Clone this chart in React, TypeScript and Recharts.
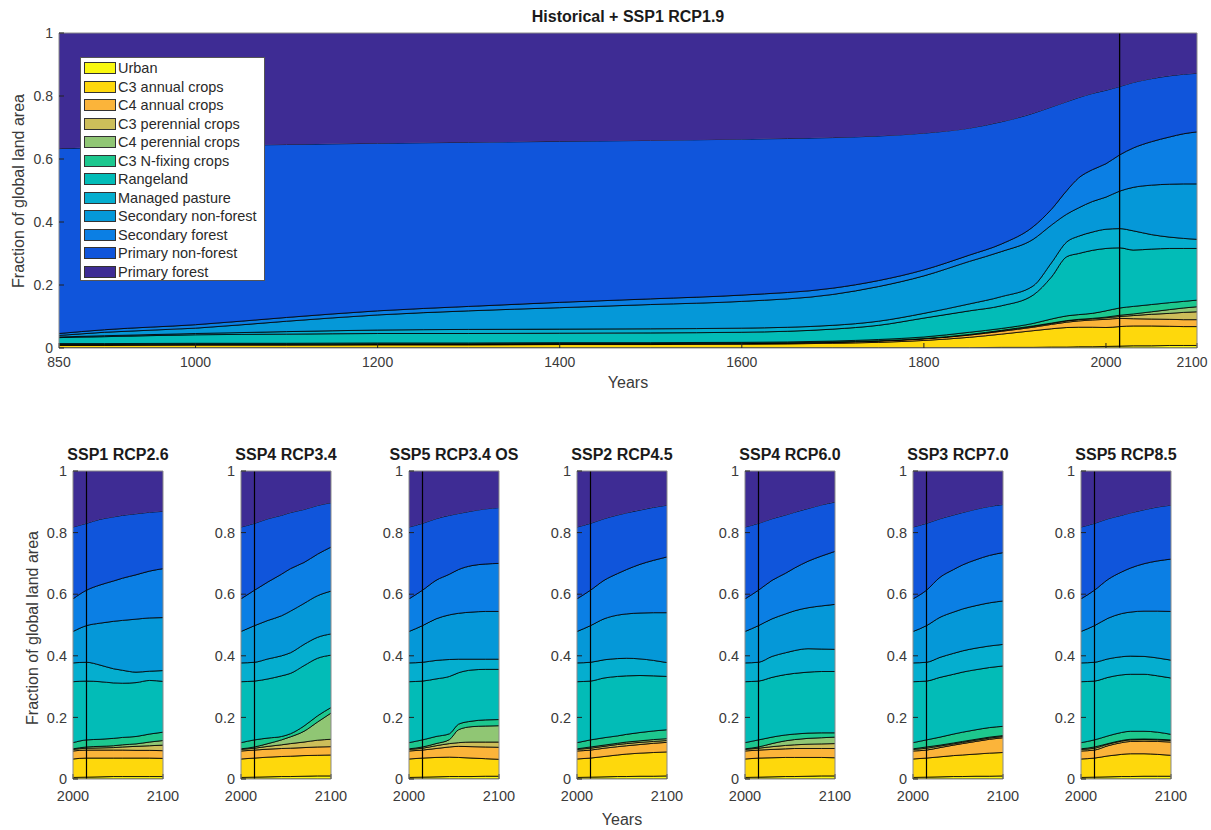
import React from 'react';
import { AreaChart, Area, XAxis, YAxis, ReferenceLine } from 'recharts';

// Land-use classes, bottom to top of the stack
const CATEGORIES = [
  'Urban',
  'C3 annual crops',
  'C4 annual crops',
  'C3 perennial crops',
  'C4 perennial crops',
  'C3 N-fixing crops',
  'Rangeland',
  'Managed pasture',
  'Secondary non-forest',
  'Secondary forest',
  'Primary non-forest',
  'Primary forest',
];
const KEYS = ['urban', 'c3ann', 'c4ann', 'c3per', 'c4per', 'c3nfx', 'range', 'pastr', 'secdn', 'secdf', 'primn'];
const COLORS = [
  '#F9F80F', '#FED80C', '#FBB43A', '#CDBE5A', '#90C674', '#1DC78E',
  '#02BCB7', '#05AECF', '#0598D8', '#0B7FE4', '#1055DB', '#3E2C94',
];
const TOTAL = 1; // top of the stack = whole land area

// ---------- Historical + SSP1 RCP1.9 (cumulative fraction at the top of each class) ----------
const histYears = [850, 900, 1000, 1100, 1200, 1300, 1400, 1500, 1600, 1700, 1750, 1800, 1850, 1885, 1920, 1940, 1957, 1970, 1985, 2000, 2015, 2030, 2050, 2070, 2085, 2100];
const histUrban = [.001, .001, .001, .001, .001, .001, .001, .001, .001, .001, .001, .001, .001, .002, .002, .003, .003, .004, .004, .005, .006, .007, .007, .008, .008, .008];
const histC3Ann = [.008, .008, .009, .009, .010, .010, .011, .011, .012, .015, .018, .024, .034, .044, .055, .061, .065, .066, .066, .065, .068, .070, .070, .069, .068, .068];
const histC4Ann = [.010, .010, .011, .011, .012, .012, .013, .013, .014, .018, .022, .029, .041, .053, .066, .075, .082, .086, .089, .091, .094, .093, .092, .091, .090, .090];
const histC3Per = [.011, .011, .012, .012, .013, .013, .014, .014, .015, .019, .023, .030, .043, .055, .069, .078, .086, .090, .093, .096, .100, .103, .107, .110, .113, .115];
const histC4Per = [.011, .011, .012, .012, .013, .013, .014, .014, .015, .019, .023, .030, .043, .056, .070, .079, .087, .091, .094, .098, .104, .108, .115, .122, .127, .131];
const histNfix = [.014, .014, .015, .015, .016, .016, .017, .017, .018, .022, .027, .035, .050, .062, .078, .092, .102, .106, .110, .118, .127, .132, .138, .144, .148, .152];
const histRange = [.033, .036, .042, .044, .046, .046, .047, .048, .050, .060, .072, .095, .118, .134, .168, .225, .290, .300, .310, .316, .318, .311, .314, .316, .316, .316];
const histPasture = [.035, .039, .046, .052, .057, .059, .060, .061, .063, .072, .085, .110, .140, .163, .197, .270, .337, .355, .368, .377, .379, .372, .360, .352, .348, .345];
const histSecNF = [.040, .050, .063, .085, .105, .118, .128, .138, .148, .170, .195, .229, .275, .306, .345, .390, .425, .445, .465, .479, .498, .510, .517, .520, .521, .521];
const histSecF = [.046, .058, .074, .097, .118, .132, .145, .156, .168, .190, .214, .248, .295, .330, .385, .440, .500, .540, .566, .585, .613, .635, .655, .670, .680, .686];
const histPrimNF = [.633, .637, .642, .646, .650, .653, .656, .659, .663, .668, .673, .682, .698, .718, .745, .765, .782, .795, .808, .818, .830, .843, .855, .864, .869, .872];
const histTicks = [850, 1000, 1200, 1400, 1600, 1800, 2000, 2100];

// ---------- Scenario panels (rows: cumulative top of urban ... primary non-forest) ----------
const scenarioYears = [2000, 2015, 2030, 2045, 2055, 2070, 2085, 2100];
const scenarioTicks = [2000, 2100];
const ssp126 = [
  [.005, .006, .007, .008, .008, .008, .008, .008],
  [.065, .068, .068, .068, .068, .068, .068, .067],
  [.091, .094, .094, .094, .094, .093, .093, .092],
  [.096, .100, .101, .102, .104, .106, .108, .110],
  [.098, .104, .106, .108, .111, .114, .120, .125],
  [.118, .127, .129, .132, .135, .138, .146, .152],
  [.316, .318, .316, .312, .311, .313, .320, .317],
  [.377, .379, .370, .358, .353, .347, .350, .352],
  [.479, .498, .506, .512, .515, .519, .523, .524],
  [.585, .613, .630, .643, .652, .663, .675, .683],
  [.818, .830, .843, .851, .856, .861, .866, .869],
];
const ssp434 = [
  [.005, .006, .007, .008, .008, .009, .010, .010],
  [.065, .068, .071, .073, .074, .076, .077, .078],
  [.091, .094, .097, .099, .100, .102, .104, .105],
  [.096, .100, .106, .111, .115, .120, .126, .129],
  [.098, .104, .115, .127, .137, .155, .185, .214],
  [.118, .127, .133, .138, .147, .172, .205, .232],
  [.316, .318, .325, .335, .343, .368, .392, .402],
  [.377, .379, .390, .400, .410, .437, .460, .471],
  [.479, .498, .515, .530, .545, .570, .595, .610],
  [.585, .613, .640, .665, .683, .703, .730, .753],
  [.818, .830, .845, .856, .865, .875, .888, .897],
];
const ssp534os = [
  [.005, .006, .007, .008, .008, .008, .009, .009],
  [.065, .068, .070, .071, .070, .068, .066, .064],
  [.091, .094, .099, .104, .106, .105, .104, .103],
  [.096, .100, .108, .115, .118, .120, .120, .120],
  [.098, .104, .115, .128, .160, .170, .172, .173],
  [.118, .127, .138, .147, .178, .188, .192, .193],
  [.316, .318, .325, .333, .345, .354, .356, .356],
  [.377, .379, .385, .388, .389, .389, .389, .389],
  [.479, .498, .520, .533, .538, .542, .544, .544],
  [.585, .613, .645, .665, .680, .693, .698, .700],
  [.818, .830, .845, .856, .862, .870, .877, .881],
];
const ssp245 = [
  [.005, .006, .007, .008, .008, .009, .009, .010],
  [.065, .068, .073, .078, .081, .084, .086, .088],
  [.091, .094, .100, .105, .108, .112, .116, .119],
  [.096, .100, .106, .112, .115, .119, .122, .125],
  [.098, .104, .110, .116, .120, .124, .128, .131],
  [.118, .127, .134, .140, .145, .151, .156, .160],
  [.316, .318, .328, .333, .335, .336, .335, .333],
  [.377, .379, .387, .391, .392, .390, .385, .378],
  [.479, .498, .520, .532, .536, .539, .540, .540],
  [.585, .613, .645, .667, .680, .697, .710, .721],
  [.818, .830, .845, .857, .864, .873, .882, .889],
];
const ssp460 = [
  [.005, .006, .007, .008, .008, .009, .010, .010],
  [.065, .068, .069, .070, .070, .070, .070, .069],
  [.091, .094, .096, .098, .099, .099, .099, .099],
  [.096, .100, .105, .109, .111, .113, .114, .115],
  [.098, .104, .115, .124, .128, .132, .134, .136],
  [.118, .127, .136, .143, .146, .149, .150, .150],
  [.316, .318, .330, .339, .343, .347, .349, .349],
  [.377, .379, .398, .410, .417, .423, .422, .421],
  [.479, .498, .520, .536, .546, .556, .562, .567],
  [.585, .613, .645, .668, .685, .707, .724, .739],
  [.818, .830, .845, .857, .866, .878, .890, .899],
];
const ssp370 = [
  [.005, .006, .007, .008, .008, .009, .009, .010],
  [.065, .068, .072, .076, .078, .081, .084, .086],
  [.091, .094, .102, .110, .115, .122, .129, .134],
  [.096, .100, .107, .114, .119, .126, .133, .138],
  [.098, .104, .110, .117, .122, .129, .136, .141],
  [.118, .127, .136, .146, .152, .160, .167, .171],
  [.316, .318, .330, .340, .347, .355, .362, .367],
  [.377, .379, .395, .408, .416, .425, .432, .437],
  [.479, .498, .525, .542, .552, .563, .572, .578],
  [.585, .613, .655, .680, .695, .712, .726, .735],
  [.818, .830, .845, .857, .865, .876, .885, .891],
];
const ssp585 = [
  [.005, .006, .007, .008, .008, .009, .009, .009],
  [.065, .068, .075, .080, .082, .082, .080, .077],
  [.091, .094, .108, .118, .122, .123, .122, .120],
  [.096, .100, .113, .123, .127, .128, .127, .125],
  [.098, .104, .115, .125, .129, .130, .129, .127],
  [.118, .127, .140, .151, .155, .155, .152, .145],
  [.316, .318, .330, .338, .340, .340, .335, .328],
  [.377, .379, .390, .397, .399, .398, .393, .386],
  [.479, .498, .522, .537, .542, .545, .545, .544],
  [.585, .613, .648, .672, .685, .699, .708, .714],
  [.818, .830, .845, .856, .864, .874, .883, .889],
];
const scenarioTitles = ['SSP1 RCP2.6', 'SSP4 RCP3.4', 'SSP5 RCP3.4 OS', 'SSP2 RCP4.5', 'SSP4 RCP6.0', 'SSP3 RCP7.0', 'SSP5 RCP8.5'];
const scenarioSeries = [ssp126, ssp434, ssp534os, ssp245, ssp460, ssp370, ssp585];
const yTicks = [0, 0.2, 0.4, 0.6, 0.8, 1];

const FONT = '"Liberation Sans", Arial, Helvetica, sans-serif';
const TXT = '#3a3a3a';

function buildRows(years: number[], series: number[][]) {
  return years.map((year, i) => {
    const row: Record<string, number> = { year };
    series.forEach((s, k) => {
      row[KEYS[k]] = s[i];
    });
    return row;
  });
}

const histRows = buildRows(histYears, [
  histUrban, histC3Ann, histC4Ann, histC3Per, histC4Per, histNfix,
  histRange, histPasture, histSecNF, histSecF, histPrimNF,
]);

function renderLayers() {
  return CATEGORIES.map((name, k) => (
    <Area
      key={name}
      name={name}
      type="monotone"
      dataKey={(d: any) => [k === 0 ? 0 : d[KEYS[k - 1]], k === CATEGORIES.length - 1 ? TOTAL : d[KEYS[k]]]}
      fill={COLORS[k]}
      fillOpacity={1}
      stroke={k === CATEGORIES.length - 1 ? 'none' : '#000'}
      strokeWidth={0.8}
      dot={false}
      activeDot={false}
      isAnimationActive={false}
    />
  ));
}

// X tick label that stays inside the page at its right edge
function makeXTick(fontSize: number, maxCenter: number) {
  return (props: any) => {
    const { x, y, payload } = props;
    return (
      <text x={Math.min(x, maxCenter)} y={y} dy="0.71em" textAnchor="middle"
        fill={TXT} fontSize={fontSize} fontFamily={FONT}>
        {payload.value}
      </text>
    );
  };
}

function frameAxes(domain: [number, number], xTicks: number[], fontSize: number, xMargin: number, yWidth: number, maxCenter: number) {
  const tick = { fill: TXT, fontSize, fontFamily: FONT };
  return [
    <XAxis key="xb" dataKey="year" type="number" domain={domain} ticks={xTicks} interval={0}
      tickSize={-5} tickMargin={xMargin} tick={makeXTick(fontSize, maxCenter)} height={30}
      axisLine={{ stroke: '#8a8a8a' }} tickLine={{ stroke: '#222' }} allowDataOverflow />,
    <XAxis key="xt" xAxisId="top" orientation="top" type="number" domain={domain} ticks={xTicks}
      interval={0} tickSize={-5} tick={false} height={1}
      axisLine={{ stroke: '#8a8a8a' }} tickLine={{ stroke: '#222' }} allowDataOverflow />,
    <YAxis key="yl" type="number" domain={[0, 1]} ticks={yTicks} interval={0}
      tickSize={-5} tickMargin={11} tick={tick} width={yWidth}
      axisLine={{ stroke: '#8a8a8a' }} tickLine={{ stroke: '#222' }} allowDataOverflow />,
    <YAxis key="yr" yAxisId="right" orientation="right" type="number" domain={[0, 1]} ticks={yTicks}
      interval={0} tickSize={-5} tick={false} width={1}
      axisLine={{ stroke: '#8a8a8a' }} tickLine={{ stroke: '#222' }} allowDataOverflow />,
  ];
}

function Legend12() {
  return (
    <div style={{
      position: 'absolute', left: 80, top: 57, width: 185, height: 224,
      background: '#fff', border: '1px solid #555', boxSizing: 'border-box', paddingTop: 1,
    }}>
      {CATEGORIES.map((name, k) => (
        <div key={name} style={{ height: 18.5, display: 'flex', alignItems: 'center' }}>
          <div style={{
            marginLeft: 3, width: 32, height: 12, background: COLORS[k],
            border: '1px solid #333', boxSizing: 'border-box', flex: 'none',
          }} />
          <span style={{
            marginLeft: 2, fontFamily: FONT, fontSize: 14.5, color: '#2a2a2a',
            whiteSpace: 'nowrap', lineHeight: '18px',
          }}>{name}</span>
        </div>
      ))}
    </div>
  );
}

const textBase: React.CSSProperties = {
  position: 'absolute', fontFamily: FONT, color: TXT, textAlign: 'center', whiteSpace: 'nowrap',
};

export default function App() {
  const PANEL_LEFT0 = 73;
  const PANEL_STEP = 168;
  const PANEL_W = 90;
  return (
    <div style={{ position: 'absolute', left: 0, top: 0, width: 1211, height: 830, background: '#fff', overflow: 'hidden' }}>
      <style>{'.recharts-surface{overflow:visible}'}</style>
      {/* Main historical chart */}
      <div style={{ position: 'absolute', left: 0, top: 0 }}>
        <AreaChart width={1211} height={400} data={histRows} margin={{ top: 32, right: 13, bottom: 22, left: 0 }}>
          {renderLayers()}
          <ReferenceLine x={2015} stroke="#000" strokeWidth={1.3} />
          {frameAxes([850, 2100], histTicks, 14, 14, 59, 1192)}
        </AreaChart>
      </div>
      <div style={{ ...textBase, left: 428, width: 400, top: 8, fontSize: 16, fontWeight: 'bold', color: '#1a1a1a' }}>
        Historical + SSP1 RCP1.9
      </div>
      <div style={{ ...textBase, left: 528, width: 200, top: 374, fontSize: 16 }}>Years</div>
      <div style={{ ...textBase, left: 19 - 150, width: 300, top: 191 - 9, fontSize: 16, lineHeight: '18px', transform: 'rotate(-90deg)' }}>
        Fraction of global land area
      </div>
      <Legend12 />

      {/* Scenario panels */}
      {scenarioSeries.map((series, i) => {
        const left = PANEL_LEFT0 + PANEL_STEP * i;
        const rows = buildRows(scenarioYears, series);
        return (
          <React.Fragment key={scenarioTitles[i]}>
            <div style={{ position: 'absolute', left: left - 45, top: 440 }}>
              <AreaChart width={45 + PANEL_W + 25} height={375} data={rows}
                margin={{ top: 30, right: 24, bottom: 6, left: 0 }}>
                {renderLayers()}
                <ReferenceLine x={2015} stroke="#000" strokeWidth={1.2} />
                {frameAxes([2000, 2100], scenarioTicks, 14.5, 17, 45, 10000)}
              </AreaChart>
            </div>
            <div style={{ ...textBase, left: left + PANEL_W / 2 - 100, width: 200, top: 446, fontSize: 16, fontWeight: 'bold', color: '#1a1a1a', lineHeight: '18px' }}>
              {scenarioTitles[i]}
            </div>
          </React.Fragment>
        );
      })}
      <div style={{ ...textBase, left: 33 - 150, width: 300, top: 628 - 9, fontSize: 16, lineHeight: '18px', transform: 'rotate(-90deg)' }}>
        Fraction of global land area
      </div>
      <div style={{ ...textBase, left: 522, width: 200, top: 811, fontSize: 16, lineHeight: '18px' }}>Years</div>
    </div>
  );
}
